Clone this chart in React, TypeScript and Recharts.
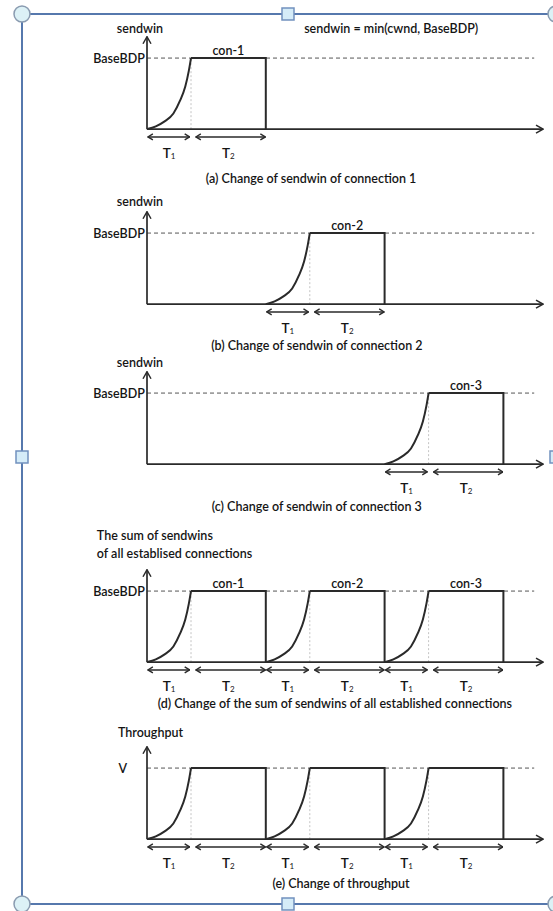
import React from 'react';
import { LineChart, Line, XAxis, YAxis, ReferenceLine, ReferenceDot } from 'recharts';

// Phase lengths in time units: T1 = slow start, T2 = window held at BaseBDP
const T1 = 1.0;
const T2 = 1.7;
// Start time of each connection
const connectionStarts = [0, 2.7, 5.4];
const connectionNames = ['con-1', 'con-2', 'con-3'];
// Slow-start growth of sendwin during T1 (time fraction of T1, level relative to BaseBDP)
const rampTime = [0, 0.2, 0.4, 0.6, 0.75, 0.87, 0.95, 1.0];
const rampLevel = [0, 0.04, 0.11, 0.22, 0.4, 0.6, 0.82, 1.0];
const fullLevel = 1;
const timeEnd = 9;
const levelLineEnd = 8.8;
const axisTop = 1.3;

const phaseNames = ['T', 'T'];
const phaseSubs = ['1', '2'];

const captions = [
  '(a) Change of sendwin of connection 1',
  '(b) Change of sendwin of connection 2',
  '(c) Change of sendwin of connection 3',
  '(d) Change of the sum of sendwins of all established connections',
  '(e) Change of throughput',
];
const yTitles = [
  ['sendwin'],
  ['sendwin'],
  ['sendwin'],
  ['The sum of sendwins', 'of all establised connections'],
  ['Throughput'],
];
const levelNames = ['BaseBDP', 'BaseBDP', 'BaseBDP', 'BaseBDP', 'V'];
const panelConnections = [[0], [1], [2], [0, 1, 2], [0, 1, 2]];
const formulaText = 'sendwin = min(cwnd, BaseBDP)';

// Layout of each panel (pixel baseline on the page, label placement in axis units)
const layout = [
  { baseline: 129, titleX: -0.16, titleY: [1.42], titleAnchor: 'middle', levelX: -0.05, captionX: 3.73, captionY: -0.7, conLabels: true },
  { baseline: 304, titleX: -0.16, titleY: [1.45], titleAnchor: 'middle', levelX: -0.05, captionX: 3.86, captionY: -0.58, conLabels: true },
  { baseline: 464, titleX: -0.16, titleY: [1.43], titleAnchor: 'middle', levelX: -0.05, captionX: 3.86, captionY: -0.6, conLabels: true },
  { baseline: 662, titleX: -1.14, titleY: [1.78, 1.53], titleAnchor: 'start', levelX: -0.05, captionX: 4.27, captionY: -0.58, conLabels: true },
  { baseline: 839, titleX: -0.66, titleY: [1.5], titleAnchor: 'start', levelX: -0.45, captionX: 4.41, captionY: -0.62, conLabels: false },
];

const W = 553;
const H = 199;
const X_DOMAIN: [number, number] = [0, timeEnd];
const Y_DOMAIN: [number, number] = [-0.8, 2.0];
const MARGIN = { top: 0, right: 10, bottom: 0, left: 147 };
const TOP_OFFSET = (Y_DOMAIN[1] / (Y_DOMAIN[1] - Y_DOMAIN[0])) * H;

const FONT = 'Lato, "Open Sans", sans-serif';
const INK = '#151515';
const LINE = '#2a2a2a';

const rampData = (start: number) =>
  rampTime.map((t, i) => ({ x: start + t * T1, y: rampLevel[i] }));
const holdData = (start: number) => [
  { x: start + T1, y: fullLevel },
  { x: start + T1 + T2, y: fullLevel },
  { x: start + T1 + T2, y: 0 },
];

const textShape = (text: string, anchor: string, size = 12.5) => (p: any) => (
  <text
    x={p.cx}
    y={p.cy}
    textAnchor={anchor}
    dominantBaseline="central"
    fontFamily={FONT}
    fontSize={size}
    fontWeight={600}
    fill={INK}
  >
    {text}
  </text>
);

const phaseShape = (name: string, sub: string) => (p: any) => (
  <text x={p.cx} y={p.cy} textAnchor="middle" dominantBaseline="central" fontFamily={FONT} fontSize={13.5} fontWeight={600} fill={INK}>
    {name}
    <tspan dy={3} fontSize={8} fontWeight={400}>{sub}</tspan>
  </text>
);

const axisShape = (p: any) => (
  <line x1={p.x1} y1={p.y1} x2={p.x2} y2={p.y2} stroke={LINE} strokeWidth={1.7} markerEnd="url(#axisHead)" />
);
const spanShape = (p: any) => (
  <line
    x1={p.x1}
    y1={p.y1}
    x2={p.x2}
    y2={p.y2}
    stroke={LINE}
    strokeWidth={1.4}
    markerStart="url(#spanHead)"
    markerEnd="url(#spanHead)"
  />
);
const levelShape = (p: any) => (
  <line x1={p.x1} y1={p.y1} x2={p.x2} y2={p.y2} stroke="#555" strokeWidth={1} strokeDasharray="4 3" />
);
const guideShape = (p: any) => (
  <line x1={p.x1} y1={p.y1} x2={p.x2} y2={p.y2} stroke="#c4c4c4" strokeWidth={1} strokeDasharray="2 2" />
);

function Panel({ index }: { index: number }) {
  const cfg = layout[index];
  const conns = panelConnections[index];
  const spanY = -0.11;
  const phaseY = -0.34;
  const els: React.ReactNode[] = [];

  conns.forEach((c) => {
    const s = connectionStarts[c];
    els.push(
      <ReferenceLine
        key={`g${c}`}
        segment={[{ x: s + T1, y: 0 }, { x: s + T1, y: fullLevel }]}
        shape={guideShape}
        ifOverflow="visible"
      />
    );
  });
  els.push(
    <ReferenceLine
      key="lvl"
      segment={[{ x: 0, y: fullLevel }, { x: levelLineEnd, y: fullLevel }]}
      shape={levelShape}
      ifOverflow="visible"
    />
  );
  els.push(
    <ReferenceLine key="xa" segment={[{ x: 0, y: 0 }, { x: timeEnd, y: 0 }]} shape={axisShape} ifOverflow="visible" />
  );
  els.push(
    <ReferenceLine key="ya" segment={[{ x: 0, y: 0 }, { x: 0, y: axisTop }]} shape={axisShape} ifOverflow="visible" />
  );

  conns.forEach((c) => {
    const s = connectionStarts[c];
    els.push(
      <Line
        key={`r${c}`}
        data={rampData(s)}
        dataKey="y"
        type="monotone"
        stroke={LINE}
        strokeWidth={2}
        dot={false}
        activeDot={false}
        isAnimationActive={false}
      />
    );
    els.push(
      <Line
        key={`h${c}`}
        data={holdData(s)}
        dataKey="y"
        type="linear"
        stroke={LINE}
        strokeWidth={2}
        dot={false}
        activeDot={false}
        isAnimationActive={false}
      />
    );
    // T1 / T2 spans under the axis
    const spans = [
      [s + 0.02, s + T1 - 0.03],
      [s + T1 + 0.11, s + T1 + T2 - 0.01],
    ];
    spans.forEach(([a, b], k) => {
      els.push(
        <ReferenceLine
          key={`sp${c}-${k}`}
          segment={[{ x: a, y: spanY }, { x: b, y: spanY }]}
          shape={spanShape}
          ifOverflow="visible"
        />
      );
    });
    els.push(
      <ReferenceDot key={`p1${c}`} x={s + T1 / 2} y={phaseY} r={0} shape={phaseShape(phaseNames[0], phaseSubs[0])} ifOverflow="visible" />
    );
    els.push(
      <ReferenceDot key={`p2${c}`} x={s + T1 + T2 / 2} y={phaseY} r={0} shape={phaseShape(phaseNames[1], phaseSubs[1])} ifOverflow="visible" />
    );
    if (cfg.conLabels) {
      els.push(
        <ReferenceDot key={`cn${c}`} x={s + T1 + T2 / 2} y={1.1} r={0} shape={textShape(connectionNames[c], 'middle')} ifOverflow="visible" />
      );
    }
  });

  yTitles[index].forEach((t, k) => {
    els.push(
      <ReferenceDot key={`t${k}`} x={cfg.titleX} y={cfg.titleY[k]} r={0} shape={textShape(t, cfg.titleAnchor)} ifOverflow="visible" />
    );
  });
  els.push(
    <ReferenceDot key="ln" x={cfg.levelX} y={fullLevel} r={0} shape={textShape(levelNames[index], 'end')} ifOverflow="visible" />
  );
  els.push(
    <ReferenceDot key="cap" x={cfg.captionX} y={cfg.captionY} r={0} shape={textShape(captions[index], 'middle')} ifOverflow="visible" />
  );
  if (index === 0) {
    els.push(
      <ReferenceDot key="fm" x={5.55} y={1.41} r={0} shape={textShape(formulaText, 'middle')} ifOverflow="visible" />
    );
  }

  return (
    <div style={{ position: 'absolute', left: 0, top: cfg.baseline - TOP_OFFSET, width: W, height: H }}>
      <LineChart width={W} height={H} margin={MARGIN}>
        <XAxis type="number" dataKey="x" domain={X_DOMAIN} hide allowDataOverflow />
        <YAxis type="number" domain={Y_DOMAIN} hide allowDataOverflow />
        {els}
      </LineChart>
    </div>
  );
}

// Selection frame around the figure, with its resize handles
function Frame() {
  const blue = '#5678ad';
  const left = 22;
  const right = 556;
  const top = 14;
  const bottom = 904;
  const midX = 288;
  const midY = 457;
  const circles = [
    [left, top],
    [right, top],
    [left, bottom],
    [right, bottom],
  ];
  const squares = [
    [midX, top],
    [left, midY],
    [right, midY],
    [midX, bottom],
  ];
  return (
    <svg width={W} height={911} style={{ position: 'absolute', left: 0, top: 0 }}>
      <defs>
        <marker id="axisHead" viewBox="0 0 10 10" refX="9" refY="5" markerWidth="10" markerHeight="10" markerUnits="userSpaceOnUse" orient="auto-start-reverse">
          <path d="M2,1 L9,5 L2,9" fill="none" stroke={LINE} strokeWidth="1.5" />
        </marker>
        <marker id="spanHead" viewBox="0 0 8 8" refX="7.5" refY="4" markerWidth="8" markerHeight="8" markerUnits="userSpaceOnUse" orient="auto-start-reverse">
          <path d="M2.5,1 L7.5,4 L2.5,7" fill="none" stroke={LINE} strokeWidth="1.4" />
        </marker>
      </defs>
      <rect x={left} y={top} width={right - left} height={bottom - top} fill="none" stroke={blue} strokeWidth={2} />
      {circles.map(([cx, cy], i) => (
        <circle key={`c${i}`} cx={cx} cy={cy} r={8} fill="#dcf1f6" stroke="#8a9bb0" strokeWidth={1.5} />
      ))}
      {squares.map(([cx, cy], i) => (
        <rect key={`s${i}`} x={cx - 6} y={cy - 6} width={12} height={12} fill="#d5ecf8" stroke="#7191be" strokeWidth={1.5} />
      ))}
    </svg>
  );
}

export default function App() {
  return (
    <div style={{ position: 'absolute', left: 0, top: 0, width: W, height: 911, background: '#fff', overflow: 'hidden' }}>
      <Frame />
      {layout.map((_, i) => (
        <Panel key={i} index={i} />
      ))}
    </div>
  );
}
